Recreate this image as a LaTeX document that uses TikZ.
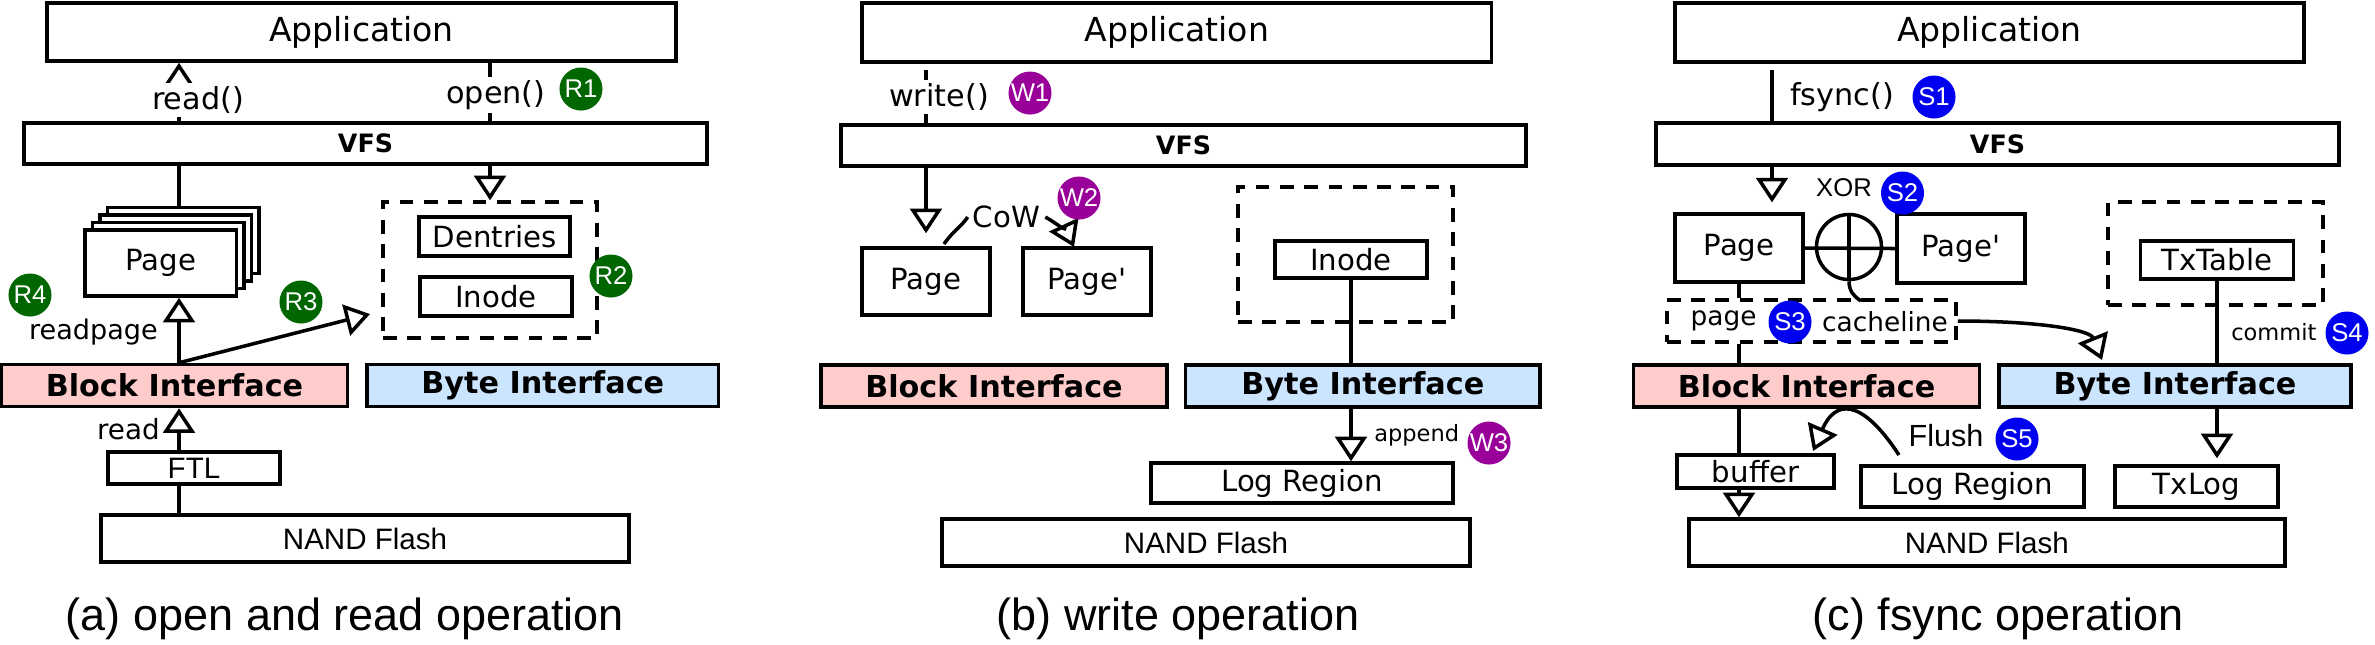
\documentclass[tikz,border=0pt]{standalone}
\usepackage{fontspec}
\setmainfont{DejaVu Sans}
\newfontfamily\arialfont{Liberation Sans}
\usetikzlibrary{arrows.meta}
\definecolor{blockpink}{RGB}{255,204,204}
\definecolor{byteblue}{RGB}{204,229,255}
\definecolor{rgreen}{RGB}{0,102,0}
\definecolor{wpurple}{RGB}{153,0,153}
\definecolor{sblue}{RGB}{0,0,240}
\newcommand{\fsz}[1]{\fontsize{#1}{#1}\selectfont}

\begin{document}
\begin{tikzpicture}[x=0.01cm,y=-0.01cm,line width=1pt,
    box/.style={draw,fill=white,inner sep=0pt,font=\fsz{8.3}},
    dbox/.style={draw,dash pattern=on 3.9pt off 3pt},
    iface/.style={draw,inner sep=0pt,minimum height=0.42cm,font=\bfseries\fsz{8.6}},
    blockif/.style={iface,fill=blockpink,minimum width=3.46cm},
    byteif/.style={iface,fill=byteblue},
    arr/.style={-{Triangle[open,width=9pt,length=7pt]}},
    lbl/.style={fill=white,inner sep=1pt,font=\fsz{8.6}},
    small/.style={inner sep=1pt,font=\fsz{6.4}},
    tag/.style={circle,minimum size=0.43cm,inner sep=0pt,text=white,font=\arialfont\fsz{7.3}},
    subcap/.style={anchor=base,font=\arialfont\fsz{12.8}}]

    \useasboundingbox (0,0) rectangle (2375,644);

    % (a) open and read operation
    \node [box,minimum width=6.29cm,minimum height=0.58cm,font=\fsz{9.4}] (appA) at (361.5,32) {Application};
    \node [box,minimum width=6.83cm,minimum height=0.41cm,font=\bfseries\fsz{7.2}] (vfsA) at (365.5,143.5) {VFS};
    \coordinate (colA) at (179,0);

    % page stack
    \foreach \i in {3,2,1}
        \node [box,minimum width=1.515cm,minimum height=0.66cm] (pageA\i) at (160.75+7.5*\i,263-7.5*\i) {};
    \node [box,minimum width=1.515cm,minimum height=0.66cm] (pageA) at (160.75,263) {Page};

    % dentries and inode
    \node [dbox,minimum width=2.14cm,minimum height=1.36cm] (dashA) at (490,270) {};
    \node [box,minimum width=1.51cm,minimum height=0.39cm] (dentA) at (494.5,236.5) {Dentries};
    \node [box,minimum width=1.52cm,minimum height=0.39cm] (inodeA) at (496,296.5) {Inode};

    \node [blockif] (blockA) at (174.5,385.5) {Block Interface};
    \node [byteif,minimum width=3.515cm] (byteA) at (542.75,385.5) {Byte Interface};
    \node [box,minimum width=1.72cm,minimum height=0.32cm,font=\arialfont\fsz{8.4}] (ftlA) at (194,468) {FTL};
    \node [box,minimum width=5.28cm,minimum height=0.47cm,font=\arialfont\fsz{8.4}] (nandA) at (365,538.5) {NAND Flash};

    % connectors
    \draw [arr] (vfsA.north -| colA) -- (appA.south -| colA);
    \node [lbl] (readcall) at (198,100) {read()};
    \draw (appA.south -| dashA) -- (vfsA.north -| dashA);
    \node [lbl] (opencall) at (496,95) {open()};
    \draw [arr] (vfsA.south -| dashA) -- (dashA.north);
    \draw (vfsA.south -| colA) -- (pageA3.north -| colA);
    \draw [arr] (blockA.north -| colA) -- (pageA.south -| colA);
    \node [lbl,anchor=east,font=\fsz{7.7}] (readpg) at (163,332) {readpage};
    \coordinate (r3tip) at (370,314);
    \draw [arr] (blockA.north -| colA) -- (r3tip);
    \draw [arr] (ftlA.north -| colA) -- (blockA.south -| colA);
    \node [lbl,anchor=east,font=\fsz{7.9}] (readlbl) at (165,429) {read};
    \draw (nandA.north -| colA) -- (ftlA.south -| colA);

    \node [tag,fill=rgreen] (r1) at (581,89) {R1};
    \node [tag,fill=rgreen] (r2) at (611,276) {R2};
    \node [tag,fill=rgreen] (r3) at (301,302) {R3};
    \node [tag,fill=rgreen] (r4) at (30,295) {R4};

    \node [subcap] (capA) at (345,630) {(a) open and read operation};

    % (b) write operation
    \node [box,minimum width=6.295cm,minimum height=0.59cm,font=\fsz{9.4}] (appB) at (1176.75,32.5) {Application};
    \node [box,minimum width=6.85cm,minimum height=0.41cm,font=\bfseries\fsz{7.2}] (vfsB) at (1183.5,145.5) {VFS};

    \node [box,minimum width=1.28cm,minimum height=0.67cm] (pageB) at (926,281.5) {Page};
    \node [box,minimum width=1.28cm,minimum height=0.67cm] (pagepB) at (1087,281.5) {Page\textquotesingle};
    \node [dbox,minimum width=2.15cm,minimum height=1.35cm] (dashB) at (1345.5,254.5) {};
    \node [box,minimum width=1.52cm,minimum height=0.37cm] (inodeB) at (1351,259.5) {Inode};

    \node [blockif] (blockB) at (994,386) {Block Interface};
    \node [byteif,minimum width=3.544cm] (byteB) at (1362.8,386) {Byte Interface};
    \node [box,minimum width=3.02cm,minimum height=0.40cm] (logB) at (1302,483) {Log Region};
    \node [box,minimum width=5.28cm,minimum height=0.47cm,font=\arialfont\fsz{8.4}] (nandB) at (1206,542.5) {NAND Flash};

    % connectors
    \draw [shorten <=1.7pt] (appB.south -| pageB) -- (vfsB.north -| pageB);
    \node [lbl] (writecall) at (939,97) {write()};
    \draw [arr,shorten >=3.7pt] (vfsB.south -| pageB) -- (pageB.north);
    \node [inner sep=1pt,font=\fsz{8.3}] (cow) at (1006.5,217) {CoW};
    \coordinate (cowstart) at (944,244);
    \coordinate (cowtip) at (1074,247);
    \draw (cowstart) .. controls (952,232) and (962,226) .. (cow.west);
    \draw [arr] (cow.east) .. controls (1058,224) and (1068,234) .. (cowtip);
    \draw (inodeB.south) -- (inodeB.south |- byteB.north);
    \draw [arr] (byteB.south -| inodeB) -- (logB.north -| inodeB);
    \node [small,anchor=west] (appendlbl) at (1369,435) {append};

    \node [tag,fill=wpurple] (w1) at (1030,93) {W1};
    \node [tag,fill=wpurple] (w2) at (1079,198) {W2};
    \node [tag,fill=wpurple] (w3) at (1489,443) {W3};

    \node [subcap] (capB) at (1178,630) {(b) write operation};

    % (c) fsync operation
    \node [box,minimum width=6.29cm,minimum height=0.59cm,font=\fsz{9.4}] (appC) at (1989.5,32.5) {Application};
    \node [box,minimum width=6.83cm,minimum height=0.42cm,font=\bfseries\fsz{7.2}] (vfsC) at (1997.5,144) {VFS};
    \coordinate (colC) at (1772,0);

    \node [box,minimum width=1.28cm,minimum height=0.68cm] (pageC) at (1739,248) {Page};
    \node [box,minimum width=1.28cm,minimum height=0.69cm] (pagepC) at (1961,248.5) {Page\textquotesingle};
    \node [draw,circle,minimum size=0.65cm,inner sep=0pt] (xor) at (1849,247) {};
    \node [inner sep=1pt,font=\arialfont\fsz{7.3}] (xorlbl) at (1844,188) {XOR};

    \node [dbox,minimum width=2.15cm,minimum height=1.03cm] (dashC) at (2215.5,253.5) {};
    \node [box,minimum width=1.525cm,minimum height=0.38cm] (txtab) at (2217,260) {TxTable};

    \node [dbox,minimum width=2.89cm,minimum height=0.42cm] (cachebox) at (1811.5,321) {};
    \node [inner sep=1pt,font=\fsz{7.5}] (pagelbl) at (1723.6,321) {page};
    \node [inner sep=1pt,font=\fsz{7.5}] (clinelbl) at (1885,322) {cacheline};

    \node [blockif] (blockC) at (1806.6,386) {Block Interface};
    \node [byteif,minimum width=3.52cm] (byteC) at (2175,386) {Byte Interface};
    \node [box,minimum width=1.57cm,minimum height=0.33cm] (bufC) at (1755.5,471.5) {buffer};
    \node [box,minimum width=2.23cm,minimum height=0.41cm] (logC) at (1972.5,486.5) {Log Region};
    \node [box,minimum width=1.63cm,minimum height=0.41cm] (txlog) at (2196.5,486.5) {TxLog};
    \node [box,minimum width=5.956cm,minimum height=0.47cm,font=\arialfont\fsz{8.4}] (nandC) at (1986.8,542.5) {NAND Flash};

    % connectors
    \draw [shorten <=1.7pt] (appC.south -| colC) -- (vfsC.north -| colC);
    \node [lbl,anchor=west] (fsynccall) at (1785,97) {fsync()};
    \draw [arr,shorten >=2.8pt] (vfsC.south -| colC) -- (pageC.north -| colC);
    \draw (pageC.east) -- (pagepC.west);
    \draw (xor.north) -- (xor.south);
    \coordinate (xortail) at (1861,301);
    \draw (xor.south) .. controls (1849,292) and (1855,297) .. (xortail);
    \draw (pageC.south) -- (pageC.south |- cachebox.north);
    \draw (cachebox.south -| pageC) -- (blockC.north -| pageC);
    \coordinate (cltip) at (2102,360);
    \draw [arr] (cachebox.east) .. controls (2040,321) and (2090,330) .. (cltip);
    \draw (txtab.south) -- (txtab.south |- byteC.north);
    \node [small,anchor=west] (commitlbl) at (2226,332) {commit};
    \draw (blockC.south -| pageC) -- (bufC.north -| pageC);
    \draw [arr] (bufC.south -| pageC) -- (nandC.north -| pageC);
    \draw [arr,shorten >=1.7pt] (byteC.south -| txtab) -- (txlog.north -| txtab);
    \coordinate (flushstart) at (1899,455);
    \coordinate (flushtip) at (1813,451);
    \draw [arr] (flushstart) .. controls (1861,397) and (1835,400) .. (flushtip);
    \node [inner sep=1pt,font=\arialfont\fsz{8.7}] (flushlbl) at (1946,436) {Flush};

    \node [tag,fill=sblue] (s1) at (1934,97) {S1};
    \node [tag,fill=sblue] (s2) at (1902.5,193) {S2};
    \node [tag,fill=sblue] (s3) at (1790,322) {S3};
    \node [tag,fill=sblue] (s4) at (2347,333) {S4};
    \node [tag,fill=sblue] (s5) at (2017,439) {S5};

    \node [subcap] (capC) at (1998,630) {(c) fsync operation};

\end{tikzpicture}
\end{document}
